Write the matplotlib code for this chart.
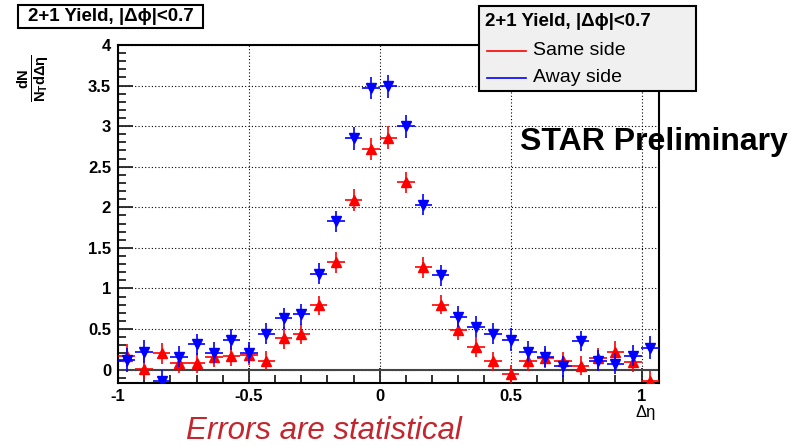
import matplotlib.pyplot as plt
from matplotlib.ticker import MultipleLocator, FuncFormatter
from matplotlib.patches import Rectangle
from matplotlib.lines import Line2D

# === Data ===
deta = [-0.967, -0.900, -0.833, -0.767, -0.700, -0.633, -0.567, -0.500,
        -0.433, -0.367, -0.300, -0.233, -0.167, -0.100, -0.033, 0.033,
        0.100, 0.167, 0.233, 0.300, 0.367, 0.433, 0.500, 0.567,
        0.633, 0.700, 0.767, 0.833, 0.900, 0.967, 1.033]
half_bin = 0.0333

same_side = [0.17, 0.01, 0.20, 0.08, 0.08, 0.15, 0.17, 0.18,
             0.11, 0.39, 0.44, 0.79, 1.32, 2.09, 2.72, 2.86,
             2.31, 1.26, 0.80, 0.49, 0.28, 0.10, -0.05, 0.10,
             0.14, 0.10, 0.05, 0.14, 0.22, 0.09, -0.14]
same_err = [0.14, 0.14, 0.13, 0.12, 0.12, 0.12, 0.12, 0.12,
            0.12, 0.13, 0.12, 0.12, 0.13, 0.13, 0.14, 0.14,
            0.13, 0.13, 0.12, 0.12, 0.12, 0.12, 0.11, 0.12,
            0.12, 0.12, 0.12, 0.13, 0.13, 0.12, 0.12]

away_side = [0.12, 0.22, -0.14, 0.16, 0.31, 0.21, 0.37, 0.21,
             0.44, 0.63, 0.68, 1.18, 1.83, 2.85, 3.47, 3.49,
             3.00, 2.03, 1.16, 0.65, 0.53, 0.44, 0.37, 0.22,
             0.16, 0.04, 0.35, 0.11, 0.07, 0.17, 0.27]
away_err = [0.15, 0.14, 0.13, 0.13, 0.13, 0.13, 0.13, 0.13,
            0.13, 0.13, 0.13, 0.13, 0.13, 0.14, 0.14, 0.14,
            0.14, 0.13, 0.13, 0.13, 0.13, 0.13, 0.14, 0.13,
            0.13, 0.13, 0.12, 0.13, 0.13, 0.13, 0.14]

title_txt = "2+1 Yield, |\u0394\u03d5|<0.7"

plt.rcParams['font.family'] = ['Liberation Sans', 'DejaVu Sans']
plt.rcParams['mathtext.fontset'] = 'custom'
plt.rcParams['mathtext.rm'] = 'Liberation Sans'
plt.rcParams['mathtext.bf'] = 'Liberation Sans:bold'
plt.rcParams['mathtext.it'] = 'Liberation Sans:italic'

W, H = 806, 446


def fx(px):
    return px / W


def fy(py):
    return 1 - py / H


fig = plt.figure(figsize=(W / 100, H / 100), dpi=100)
ax = fig.add_axes([fx(118), fy(383), (659 - 118) / W, (383 - 45) / H])

# === Points ===
ax.errorbar(deta, same_side, xerr=half_bin, yerr=same_err, fmt='^',
            color='red', ms=7.5, elinewidth=1.2, capsize=0, zorder=4)
ax.errorbar(deta, away_side, xerr=half_bin, yerr=away_err, fmt='v',
            color='blue', ms=7.5, elinewidth=1.2, capsize=0, zorder=5)

ax.set_xlim(-1, 1.0667)
ax.set_ylim(-0.165, 4.0)
ax.axhline(0, color='#444444', lw=1.5, zorder=2)

# === Axes style (ROOT-like) ===
ax.xaxis.set_major_locator(MultipleLocator(0.5))
ax.xaxis.set_minor_locator(MultipleLocator(0.1))
ax.yaxis.set_major_locator(MultipleLocator(0.5))
ax.yaxis.set_minor_locator(MultipleLocator(0.1))
fmt = FuncFormatter(lambda v, p: f"{v:g}".replace("\u2212", "-"))
ax.xaxis.set_major_formatter(fmt)
ax.yaxis.set_major_formatter(fmt)
ax.tick_params(which='both', direction='in', top=False, right=False,
               width=1.3, color='#222222', labelsize=12)
ax.tick_params(which='major', length=11)
ax.tick_params(which='minor', length=5.5)
ax.tick_params(axis='y', which='major', pad=5)
ax.tick_params(axis='x', which='major', pad=4)
for lab in ax.get_xticklabels() + ax.get_yticklabels():
    lab.set_fontweight('bold')
ax.grid(which='major', color='black', linestyle=(0, (1, 2)), lw=0.8)
for s in ax.spines.values():
    s.set_linewidth(1.5)
    s.set_color('black')

# === Labels ===
fig.text(fx(33), fy(78), r'$\mathbf{\frac{dN}{N_{T}d\Delta\eta}}$',
         rotation=90, ha='center', va='center', size=15)
fig.text(fx(646), fy(413), '\u0394\u03b7', ha='center', va='center', size=12)

# title box
fig.add_artist(Rectangle((fx(18), fy(28)), 185 / W, 23 / H, transform=fig.transFigure,
                         fc='white', ec='black', lw=1.5, zorder=5))
fig.text(fx(110.5), fy(16.5), title_txt, ha='center', va='center',
         weight='bold', size=13.5, zorder=6)

# legend box
fig.add_artist(Rectangle((fx(479), fy(91)), (696 - 479) / W, (91 - 6) / H,
                         transform=fig.transFigure, fc='#f0f0f0', ec='black',
                         lw=1.5, zorder=5))
fig.text(fx(485), fy(21), title_txt, ha='left', va='center',
         weight='bold', size=13.5, zorder=6)
fig.add_artist(Line2D([fx(487), fx(526)], [fy(50.5), fy(50.5)],
                      color='red', lw=1.2, zorder=6))
fig.text(fx(533), fy(50.5), 'Same side', ha='left', va='center', size=14, zorder=6)
fig.add_artist(Line2D([fx(487), fx(526)], [fy(78), fy(78)],
                      color='blue', lw=1.2, zorder=6))
fig.text(fx(533), fy(78), 'Away side', ha='left', va='center', size=14, zorder=6)

fig.text(fx(520), fy(142), 'STAR Preliminary', ha='left', va='center',
         weight='bold', size=23, zorder=6)
fig.text(fx(186), fy(431), 'Errors are statistical', ha='left', va='center',
         style='italic', size=22.5, color='#c4262e')

fig.savefig('out.png', dpi=100)
